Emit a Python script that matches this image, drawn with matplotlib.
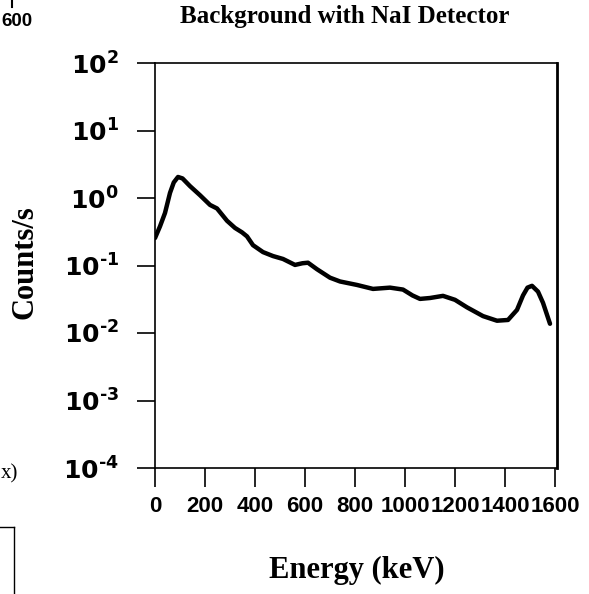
import matplotlib
matplotlib.use("Agg")
import matplotlib.pyplot as plt
from matplotlib.lines import Line2D

# NaI background spectrum
energy = [0, 20, 40, 60, 75, 92, 110, 140, 180, 220, 248, 288, 320, 348, 368,
          392, 432, 472, 512, 560, 590, 612, 648, 700, 740, 808, 872, 940, 992,
          1030, 1060, 1100, 1152, 1200, 1248, 1312, 1368, 1412, 1448, 1472,
          1490, 1508, 1532, 1552, 1580]
counts = [0.255, 0.38, 0.60, 1.19, 1.7, 2.05, 1.95, 1.5, 1.1, 0.79, 0.70, 0.46,
          0.36, 0.31, 0.27, 0.20, 0.158, 0.138, 0.125, 0.102, 0.108, 0.110,
          0.088, 0.066, 0.058, 0.0515, 0.045, 0.047, 0.044, 0.036, 0.032,
          0.033, 0.0355, 0.031, 0.024, 0.0178, 0.0152, 0.0156, 0.022, 0.036,
          0.047, 0.050, 0.041, 0.028, 0.0137]

x_ticks = [0, 200, 400, 600, 800, 1000, 1200, 1400, 1600]
y_ticks = [1e-4, 1e-3, 1e-2, 1e-1, 1e0, 1e1, 1e2]
y_tick_labels = [r'$10^{\text{-}4}$', r'$10^{\text{-}3}$', r'$10^{\text{-}2}$',
                 r'$10^{\text{-}1}$', r'$10^{0}$', r'$10^{1}$', r'$10^{2}$']

plt.rcParams['mathtext.fontset'] = 'custom'
plt.rcParams['mathtext.rm'] = 'DejaVu Sans:bold'
plt.rcParams['mathtext.it'] = 'DejaVu Sans:bold'
plt.rcParams['mathtext.bf'] = 'DejaVu Sans:bold'

W, H = 589, 594
fig = plt.figure(figsize=(W / 100, H / 100), dpi=100)
ax = fig.add_axes([155 / W, 1 - 468 / H, (557 - 155) / W, (468 - 63) / H])

ax.semilogy(energy, counts, color='black', lw=3.2, solid_joinstyle='round',
            solid_capstyle='round')

ax.set_xlim(0, 1608)
ax.set_ylim(1e-4, 1e2)
ax.set_xticks(x_ticks)
ax.set_xticklabels([str(t) for t in x_ticks], fontfamily='Liberation Sans',
                   fontweight='bold', fontsize=16)
ax.set_yticks(y_ticks)
ax.set_yticklabels(y_tick_labels, fontsize=18)
ax.minorticks_off()
ax.tick_params(axis='x', direction='out', length=14, width=1.2, pad=6)
ax.tick_params(axis='y', direction='out', length=13, width=1.2, pad=13)
for side in ['left', 'bottom', 'top']:
    ax.spines[side].set_linewidth(1.2)
ax.spines['right'].set_linewidth(2)

serif = dict(fontfamily='Liberation Serif', fontweight='bold')
fig.text(345 / W, 1 - 16 / H, 'Background with NaI Detector', ha='center',
         va='center', fontsize=18, **serif)
fig.text(25 / W, 1 - 262 / H, 'Counts/s', rotation=90, ha='center',
         va='center', fontsize=22, **serif)
fig.text(357 / W, 1 - 570 / H, 'Energy (keV)', ha='center', va='center',
         fontsize=22, **serif)

# bits of the neighbouring figure cropped into the scan
fig.text(1 / W, 1 - 22 / H, '600', ha='left', va='center', fontsize=13.5,
         fontfamily='Liberation Sans', fontweight='bold')
fig.add_artist(Line2D([12 / W, 12 / W], [1, 1 - 7 / H],
                      transform=fig.transFigure, color='black', lw=1.5))
fig.text(1 / W, 1 - 474 / H, 'x)', ha='left', va='center', fontsize=15,
         fontfamily='Liberation Serif')
fig.add_artist(Line2D([0, 14 / W], [1 - 527 / H, 1 - 527 / H],
                      transform=fig.transFigure, color='black', lw=1))
fig.add_artist(Line2D([14 / W, 14 / W], [1 - 527 / H, 0],
                      transform=fig.transFigure, color='black', lw=1))

fig.savefig('out.png', dpi=100)
